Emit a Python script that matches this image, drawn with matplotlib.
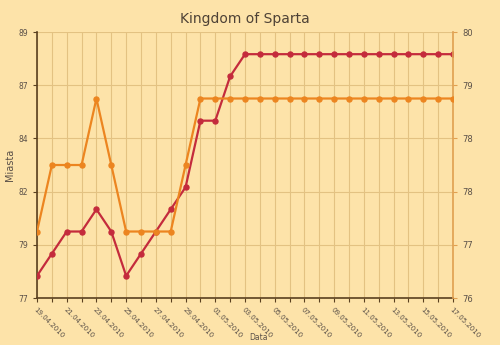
import matplotlib
matplotlib.use("Agg")
import matplotlib.pyplot as plt
import matplotlib.dates as mdates
import pandas as pd

# Daily observations, 19.04.2010 - 17.05.2010
dates = pd.date_range("2010-04-19", "2010-05-17", freq="D")

# City count (left axis)
miasta = [78, 79, 80, 80, 81, 80, 78, 79, 80, 81, 82, 85, 85, 87,
          88, 88, 88, 88, 88, 88, 88, 88, 88, 88, 88, 88, 88, 88, 88]
# Second series (right axis)
drugi = [77, 78, 78, 78, 79, 78, 77, 77, 77, 77, 78, 79, 79, 79,
         79, 79, 79, 79, 79, 79, 79, 79, 79, 79, 79, 79, 79, 79, 79]

left_ticks = [77, 79.4, 81.8, 84.2, 86.6, 89]
right_ticks = [76, 76.8, 77.6, 78.4, 79.2, 80]

BG = "#fde3a9"
GRID = "#e3c282"
RED = "#c42b3c"
ORANGE = "#ec8520"
TXT = "#5a5048"

fig = plt.figure(figsize=(5.0, 3.45), dpi=100, facecolor=BG)
ax = fig.add_axes([0.074, 0.1362, 0.832, 0.771], facecolor=BG)
ax2 = ax.twinx()

ax.plot(dates, miasta, color=RED, lw=1.6, marker="o", ms=3.6, zorder=3)
ax2.plot(dates, drugi, color=ORANGE, lw=1.6, marker="o", ms=3.6, zorder=3)

ax.set_ylim(77, 89)
ax2.set_ylim(76, 80)
ax.set_xlim(dates[0], dates[-1])

ax.set_yticks(left_ticks)
ax.set_yticklabels([f"{v:.0f}" for v in left_ticks])
ax2.set_yticks(right_ticks)
ax2.set_yticklabels([f"{v:.0f}" for v in right_ticks])

ax.xaxis.set_major_locator(mdates.DayLocator(interval=2))
ax.xaxis.set_minor_locator(mdates.DayLocator())
ax.xaxis.set_major_formatter(mdates.DateFormatter("%d.%m.%Y"))
for lbl in ax.get_xticklabels():
    lbl.set_rotation(-45)
    lbl.set_ha("left")
    lbl.set_va("top")
    lbl.set_rotation_mode("anchor")

ax.grid(True, which="both", axis="x", color=GRID, lw=0.8)
ax.grid(True, which="major", axis="y", color=GRID, lw=0.8)
ax.set_axisbelow(True)

ax.tick_params(axis="x", which="both", labelsize=5, colors="#5a4020",
               labelcolor=TXT, length=3, width=0.8, pad=3)
ax.tick_params(axis="y", labelsize=5.5, colors="#5a4020", labelcolor=TXT,
               length=3, width=0.8)
ax2.tick_params(axis="y", labelsize=6, colors="#e0a050", labelcolor=TXT,
                length=3, width=0.8)

ax.spines["top"].set_visible(False)
ax2.spines["top"].set_visible(False)
ax.spines["right"].set_visible(False)
ax.spines["left"].set_color("#5a4020")
ax.spines["left"].set_linewidth(1.2)
ax.spines["bottom"].set_color("#5a4020")
ax.spines["bottom"].set_linewidth(1.2)
ax2.spines["left"].set_visible(False)
ax2.spines["bottom"].set_visible(False)
ax2.spines["right"].set_color("#e0a050")
ax2.spines["right"].set_linewidth(1.2)

ax.set_ylabel("Miasta", fontsize=7, color=TXT, labelpad=2)
fig.text(0.516, 0.008, "Data", fontsize=5.5, color=TXT, ha="center", va="bottom")
fig.text(0.49, 0.945, "Kingdom of Sparta", fontsize=10, color="#4e4236",
         ha="center", va="center")

fig.savefig("out.png", dpi=100, facecolor=BG)
